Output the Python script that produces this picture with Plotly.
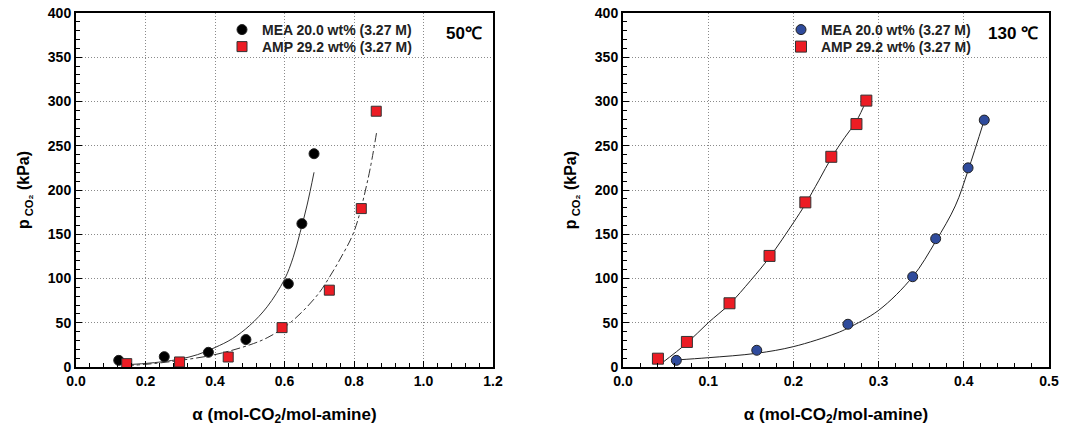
import plotly.graph_objects as go

# ---------------- data ----------------
# 50 C panel
mea50_x = [0.123, 0.254, 0.381, 0.489, 0.611, 0.650, 0.685]
mea50_y = [7.5, 11.7, 16.6, 31.0, 94.0, 162.0, 241.0]
amp50_x = [0.146, 0.298, 0.438, 0.593, 0.729, 0.821, 0.864]
amp50_y = [3.8, 5.7, 11.3, 44.5, 86.8, 179.0, 289.0]
mea50_fit_x = [0.14, 0.20, 0.25, 0.30, 0.35, 0.40, 0.45, 0.50, 0.55, 0.60, 0.625, 0.645, 0.665, 0.685]
mea50_fit_y = [2.5, 4.0, 6.0, 9.0, 14.0, 22.0, 32.0, 47.0, 68.0, 99.0, 124.0, 152.0, 183.0, 220.0]
amp50_fit_x = [0.14, 0.20, 0.30, 0.40, 0.50, 0.55, 0.60, 0.65, 0.70, 0.73, 0.76, 0.80, 0.84, 0.865]
amp50_fit_y = [1.5, 3.0, 7.5, 14.0, 25.0, 33.0, 45.0, 62.0, 84.0, 102.0, 122.0, 153.0, 212.0, 265.0]

# 130 C panel
mea130_x = [0.0626, 0.157, 0.264, 0.340, 0.367, 0.405, 0.424]
mea130_y = [7.5, 18.9, 48.3, 102.0, 145.0, 225.0, 279.0]
amp130_x = [0.041, 0.075, 0.125, 0.172, 0.214, 0.2445, 0.274, 0.2856]
amp130_y = [9.4, 28.3, 72.0, 125.5, 186.0, 237.5, 274.5, 301.0]
mea130_fit_x = [0.063, 0.10, 0.157, 0.20, 0.25, 0.264, 0.30, 0.34, 0.367, 0.39, 0.405, 0.424]
mea130_fit_y = [8.0, 10.5, 15.5, 23.0, 38.0, 44.0, 64.0, 102.0, 142.0, 182.0, 222.0, 279.0]
amp130_fit_x = [0.045, 0.075, 0.10, 0.125, 0.15, 0.172, 0.20, 0.214, 0.23, 0.245, 0.26, 0.274, 0.286]
amp130_fit_y = [4.0, 27.0, 50.0, 71.0, 98.0, 124.0, 163.0, 184.0, 211.0, 237.0, 259.0, 278.0, 302.0]

mea_label = "MEA 20.0 wt% (3.27 M)"
amp_label = "AMP 29.2 wt% (3.27 M)"
x_title = "α (mol-CO<sub>2</sub>/mol-amine)"
y_title = "p<sub> CO₂</sub> (kPa)"

RED = "#ec1c24"
BLUE = "#2f4b9c"
FONT = "Liberation Sans"
W, H = 1073, 428

fig = go.Figure()

# ---- left panel ----
fig.add_trace(go.Scatter(x=mea50_fit_x, y=mea50_fit_y, mode="lines", line=dict(color="#333333", width=1, shape="spline"),
                         showlegend=False, xaxis="x", yaxis="y", hoverinfo="skip"))
fig.add_trace(go.Scatter(x=amp50_fit_x, y=amp50_fit_y, mode="lines",
                         line=dict(color="#333333", width=1, dash="dashdot", shape="spline"),
                         showlegend=False, xaxis="x", yaxis="y", hoverinfo="skip"))
fig.add_trace(go.Scatter(x=mea50_x, y=mea50_y, mode="markers", name=mea_label,
                         marker=dict(symbol="circle", size=10, color="black", line=dict(color="#222222", width=1)),
                         xaxis="x", yaxis="y", legend="legend"))
fig.add_trace(go.Scatter(x=amp50_x, y=amp50_y, mode="markers", name=amp_label,
                         marker=dict(symbol="square", size=10, color=RED, line=dict(color="#333333", width=1)),
                         xaxis="x", yaxis="y", legend="legend2"))

# ---- right panel ----
fig.add_trace(go.Scatter(x=mea130_fit_x, y=mea130_fit_y, mode="lines", line=dict(color="#222222", width=1, shape="spline"),
                         showlegend=False, xaxis="x2", yaxis="y2", hoverinfo="skip"))
fig.add_trace(go.Scatter(x=amp130_fit_x, y=amp130_fit_y, mode="lines", line=dict(color="#222222", width=1, shape="spline"),
                         showlegend=False, xaxis="x2", yaxis="y2", hoverinfo="skip"))
fig.add_trace(go.Scatter(x=mea130_x, y=mea130_y, mode="markers", name=mea_label,
                         marker=dict(symbol="circle", size=10, color=BLUE, line=dict(color="#222222", width=1)),
                         xaxis="x2", yaxis="y2", legend="legend3"))
fig.add_trace(go.Scatter(x=amp130_x, y=amp130_y, mode="markers", name=amp_label,
                         marker=dict(symbol="square", size=11, color=RED, line=dict(color="#333333", width=1)),
                         xaxis="x2", yaxis="y2", legend="legend4"))

tickfont = dict(family=FONT, size=14, color="black", weight="bold")
titlefont = dict(family=FONT, size=17, color="black", weight="bold")
GRID = dict(showgrid=True, gridcolor="#8a8a8a", griddash="1px,2px", gridwidth=1)


def xax(domain, rng, dtick, minor, anchor):
    return dict(domain=domain, range=rng, dtick=dtick, tick0=0, tickformat=".1f",
                showline=True, linewidth=2, linecolor="black", mirror=True,
                ticks="inside", ticklen=6, tickwidth=1, tickcolor="black",
                minor=dict(dtick=minor, ticks="inside", ticklen=4, tickcolor="black", showgrid=False),
                zeroline=False, tickfont=tickfont, anchor=anchor, automargin=False,
                title=dict(text=x_title, font=titlefont, standoff=20), **GRID)


def yax(domain, anchor):
    return dict(domain=domain, range=[0, 400], dtick=50, tick0=0,
                showline=True, linewidth=2, linecolor="black", mirror=True,
                ticks="inside", ticklen=6, tickwidth=1, tickcolor="black",
                minor=dict(dtick=10, ticks="inside", ticklen=4, tickcolor="black", showgrid=False),
                zeroline=False, tickfont=tickfont, anchor=anchor, automargin=False,
                title=dict(text=y_title, font=dict(family=FONT, size=16, color="black", weight="bold"),
                           standoff=14), **GRID)


ydom = [1 - 367 / H, 1 - 13 / H]
legfont = dict(family=FONT, size=14, color="#222222", weight="bold")


def leg(px, py):
    return dict(x=px / W, y=1 - py / H, xanchor="left", yanchor="middle",
                bgcolor="rgba(0,0,0,0)", font=legfont, itemwidth=30)


fig.update_layout(
    width=W, height=H,
    margin=dict(l=0, r=0, t=0, b=0),
    paper_bgcolor="white", plot_bgcolor="white",
    xaxis=xax([76 / W, 493 / W], [0, 1.2], 0.2, 0.04, "y"),
    yaxis=yax(ydom, "x"),
    xaxis2=xax([623 / W, 1049 / W], [0, 0.5], 0.1, 0.02, "y2"),
    yaxis2=yax(ydom, "x2"),
    legend=leg(222, 30),
    legend2=leg(222, 47),
    legend3=leg(781, 30),
    legend4=leg(781, 47),
    showlegend=True,
    annotations=[
        dict(text="50℃", x=484 / W, y=1 - 34 / H, xref="paper", yref="paper",
             xanchor="right", yanchor="middle", showarrow=False,
             font=dict(family=FONT, size=17, color="black", weight="bold")),
        dict(text="130 ℃", x=1040 / W, y=1 - 34 / H, xref="paper", yref="paper",
             xanchor="right", yanchor="middle", showarrow=False,
             font=dict(family=FONT, size=17, color="black", weight="bold")),
    ],
)

fig.write_html("out.html")
